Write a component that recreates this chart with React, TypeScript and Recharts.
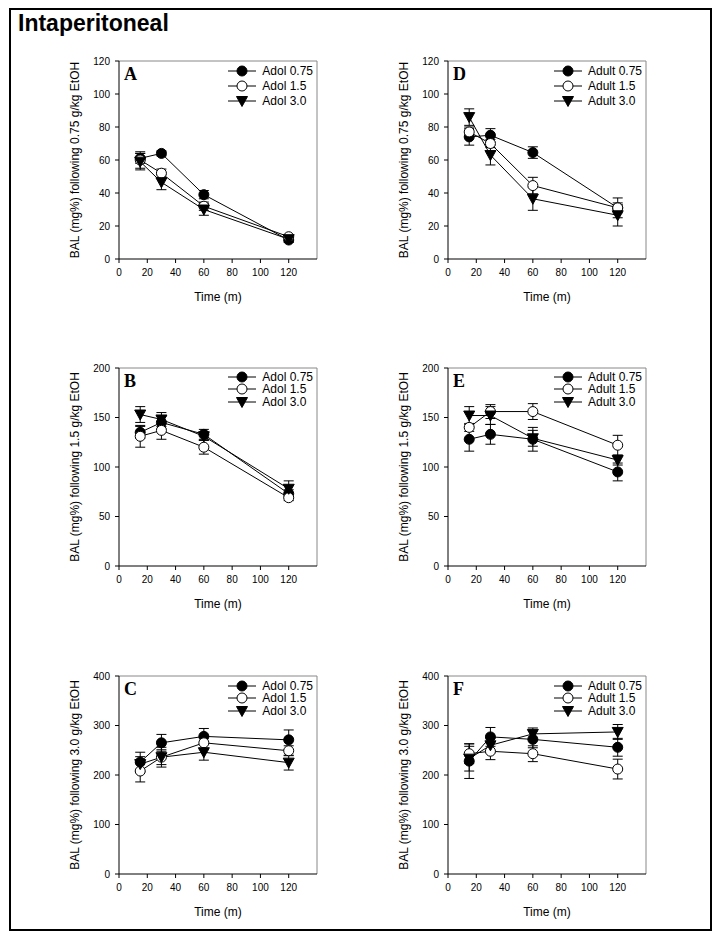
import { LineChart, Line, XAxis, YAxis, ErrorBar, ReferenceLine, Label } from "recharts";

// Shared x values (minutes after injection) and tick labels
const TIME = [15, 30, 60, 120];
const X_TICKS = [0, 20, 40, 60, 80, 100, 120];
const ADOL_NAMES = ["Adol 0.75", "Adol 1.5", "Adol 3.0"];
const ADULT_NAMES = ["Adult 0.75", "Adult 1.5", "Adult 3.0"];

// A: adolescents, 0.75 g/kg
const A_075 = [61, 64, 39, 11.5];
const A_075_ERR = [3, 1.5, 2.5, 1.5];
const A_15 = [60, 52, 32, 13.5];
const A_15_ERR = [5, 2.5, 2.5, 1];
const A_30 = [59, 46.5, 30, 12];
const A_30_ERR = [5, 4.5, 3.5, 1];

// B: adolescents, 1.5 g/kg
const B_075 = [135, 145, 133, 73];
const B_075_ERR = [6, 6, 5, 4];
const B_15 = [131, 137, 120, 69];
const B_15_ERR = [11, 9, 7, 3];
const B_30 = [153, 148, 131, 78];
const B_30_ERR = [8, 7, 4, 8];

// C: adolescents, 3.0 g/kg
const C_075 = [226, 265, 278, 271];
const C_075_ERR = [20, 17, 16, 20];
const C_15 = [208, 236, 265, 249];
const C_15_ERR = [22, 15, 14, 10];
const C_30 = [222, 236, 246, 225];
const C_30_ERR = [15, 20, 16, 15];

// D: adults, 0.75 g/kg
const D_075 = [74, 75, 64.5, 31];
const D_075_ERR = [5, 4, 3.5, 3];
const D_15 = [77, 70, 44.5, 31];
const D_15_ERR = [3, 2.5, 5, 6];
const D_30 = [86, 63, 36.5, 26.5];
const D_30_ERR = [5, 6, 7, 6.5];

// E: adults, 1.5 g/kg
const E_075 = [128, 133, 128, 95];
const E_075_ERR = [12, 10, 12, 9];
const E_15 = [140, 156, 156, 122];
const E_15_ERR = [4, 7, 8, 10];
const E_30 = [152, 152, 129, 107];
const E_30_ERR = [9, 9, 8, 5];

// F: adults, 3.0 g/kg
const F_075 = [228, 277, 272, 256];
const F_075_ERR = [35, 19, 17, 18];
const F_15 = [243, 248, 243, 212];
const F_15_ERR = [20, 17, 16, 20];
const F_30 = [233, 260, 283, 287];
const F_30_ERR = [25, 15, 12, 15];

const KINDS = ["filled", "open", "triangle"];
const FONT = '"Liberation Sans", Arial, Helvetica, sans-serif';
const PLOT = 198;
const Y_AXIS_W = 88;

function Marker({ cx, cy, kind }: { cx?: number; cy?: number; kind: string }) {
  if (cx == null || cy == null) return null;
  if (kind === "triangle") {
    return (
      <polygon
        points={`${cx - 5.5},${cy - 4.5} ${cx + 5.5},${cy - 4.5} ${cx},${cy + 5.5}`}
        fill="#000"
        stroke="#000"
      />
    );
  }
  return (
    <circle cx={cx} cy={cy} r={5} fill={kind === "filled" ? "#000" : "#fff"} stroke="#000" strokeWidth={1} />
  );
}

function buildRows(series: Array<[number[], number[]]>) {
  return TIME.map((t, i) => {
    const row: Record<string, number> = { t };
    series.forEach(([vals, errs], s) => {
      row[`s${s}`] = vals[i];
      row[`e${s}`] = errs[i];
    });
    return row;
  });
}

interface PanelProps {
  letter: string;
  left: number;
  top: number;
  yMax: number;
  yTicks: number[];
  yLabel: string;
  names: string[];
  series: Array<[number[], number[]]>;
  rowH: number;
  legendTop: number;
}

function Panel({ letter, left, top, yMax, yTicks, yLabel, names, series, rowH, legendTop }: PanelProps) {
  const rows = buildRows(series);
  const width = Y_AXIS_W + PLOT + 10;
  const height = 10 + PLOT + 50;
  return (
    <div style={{ position: "absolute", left: left - Y_AXIS_W, top: top - 10, width, height }}>
      <LineChart width={width} height={height} data={rows} margin={{ top: 10, right: 10, bottom: 0, left: 0 }}>
        <XAxis
          dataKey="t"
          type="number"
          domain={[0, 140]}
          ticks={X_TICKS}
          height={50}
          tickSize={4}
          tickMargin={6}
          stroke="#000"
          tick={{ fill: "#000", fontSize: 10, fontFamily: FONT }}
        >
          <Label value="Time (m)" position="insideBottom" offset={8} fill="#000" fontSize={12} fontFamily={FONT} />
        </XAxis>
        <YAxis
          type="number"
          domain={[0, yMax]}
          ticks={yTicks}
          width={Y_AXIS_W}
          tickSize={4}
          tickMargin={5}
          stroke="#000"
          tick={{ fill: "#000", fontSize: 10, fontFamily: FONT }}
        >
          <Label value={yLabel} angle={-90} position="center" fill="#000" fontSize={12} fontFamily={FONT} />
        </YAxis>
        <ReferenceLine y={yMax} stroke="#888" />
        <ReferenceLine x={140} stroke="#888" />
        {series.map((_, s) => (
          <Line
            key={s}
            dataKey={`s${s}`}
            stroke="#000"
            strokeWidth={1}
            isAnimationActive={false}
            dot={(p: any) => <Marker key={`${s}-${p.index}`} cx={p.cx} cy={p.cy} kind={KINDS[s]} />}
            activeDot={false}
          >
            <ErrorBar dataKey={`e${s}`} width={5} stroke="#000" strokeWidth={1} direction="y" isAnimationActive={false} />
          </Line>
        ))}
      </LineChart>
      <div
        style={{
          position: "absolute",
          left: Y_AXIS_W + 5,
          top: 14,
          fontFamily: '"Liberation Serif", "Times New Roman", serif',
          fontWeight: "bold",
          fontSize: 18,
          lineHeight: "18px",
        }}
      >
        {letter}
      </div>
      <div style={{ position: "absolute", right: 14, top: legendTop, fontFamily: FONT, fontSize: 12 }}>
        {names.map((n, i) => (
          <div key={n} style={{ display: "flex", alignItems: "center", height: rowH }}>
            <svg width={28} height={12}>
              <line x1={0} x2={28} y1={6} y2={6} stroke="#000" strokeWidth={1} />
              <Marker cx={14} cy={6} kind={KINDS[i]} />
            </svg>
            <span style={{ marginLeft: 6, lineHeight: `${rowH}px` }}>{n}</span>
          </div>
        ))}
      </div>
    </div>
  );
}

export default function App() {
  return (
    <div style={{ position: "absolute", left: 0, top: 0, width: 720, height: 939, background: "#fff" }}>
      <div
        style={{
          position: "absolute",
          left: 9,
          top: 8,
          width: 703,
          height: 923,
          boxSizing: "border-box",
          border: "2px solid #000",
        }}
      />
      <div
        style={{
          position: "absolute",
          left: 18,
          top: 10,
          fontFamily: FONT,
          fontWeight: "bold",
          fontSize: 23,
          lineHeight: "26px",
        }}
      >
        Intaperitoneal
      </div>
      <Panel
        letter="A"
        left={119}
        top={61}
        yMax={120}
        yTicks={[0, 20, 40, 60, 80, 100, 120]}
        yLabel="BAL (mg%) following 0.75 g/kg EtOH"
        names={ADOL_NAMES}
        series={[[A_075, A_075_ERR], [A_15, A_15_ERR], [A_30, A_30_ERR]]}
        rowH={15}
        legendTop={12.5}
      />
      <Panel
        letter="D"
        left={448}
        top={61}
        yMax={120}
        yTicks={[0, 20, 40, 60, 80, 100, 120]}
        yLabel="BAL (mg%) following 0.75 g/kg EtOH"
        names={ADULT_NAMES}
        series={[[D_075, D_075_ERR], [D_15, D_15_ERR], [D_30, D_30_ERR]]}
        rowH={15}
        legendTop={12.5}
      />
      <Panel
        letter="B"
        left={119}
        top={368}
        yMax={200}
        yTicks={[0, 50, 100, 150, 200]}
        yLabel="BAL (mg%) following 1.5 g/kg EtOH"
        names={ADOL_NAMES}
        series={[[B_075, B_075_ERR], [B_15, B_15_ERR], [B_30, B_30_ERR]]}
        rowH={12.5}
        legendTop={12.5}
      />
      <Panel
        letter="E"
        left={448}
        top={368}
        yMax={200}
        yTicks={[0, 50, 100, 150, 200]}
        yLabel="BAL (mg%) following 1.5 g/kg EtOH"
        names={ADULT_NAMES}
        series={[[E_075, E_075_ERR], [E_15, E_15_ERR], [E_30, E_30_ERR]]}
        rowH={12.5}
        legendTop={12.5}
      />
      <Panel
        letter="C"
        left={119}
        top={676}
        yMax={400}
        yTicks={[0, 100, 200, 300, 400]}
        yLabel="BAL (mg%) following 3.0 g/kg EtOH"
        names={ADOL_NAMES}
        series={[[C_075, C_075_ERR], [C_15, C_15_ERR], [C_30, C_30_ERR]]}
        rowH={12.5}
        legendTop={13.5}
      />
      <Panel
        letter="F"
        left={448}
        top={676}
        yMax={400}
        yTicks={[0, 100, 200, 300, 400]}
        yLabel="BAL (mg%) following 3.0 g/kg EtOH"
        names={ADULT_NAMES}
        series={[[F_075, F_075_ERR], [F_15, F_15_ERR], [F_30, F_30_ERR]]}
        rowH={12.5}
        legendTop={13.5}
      />
    </div>
  );
}
